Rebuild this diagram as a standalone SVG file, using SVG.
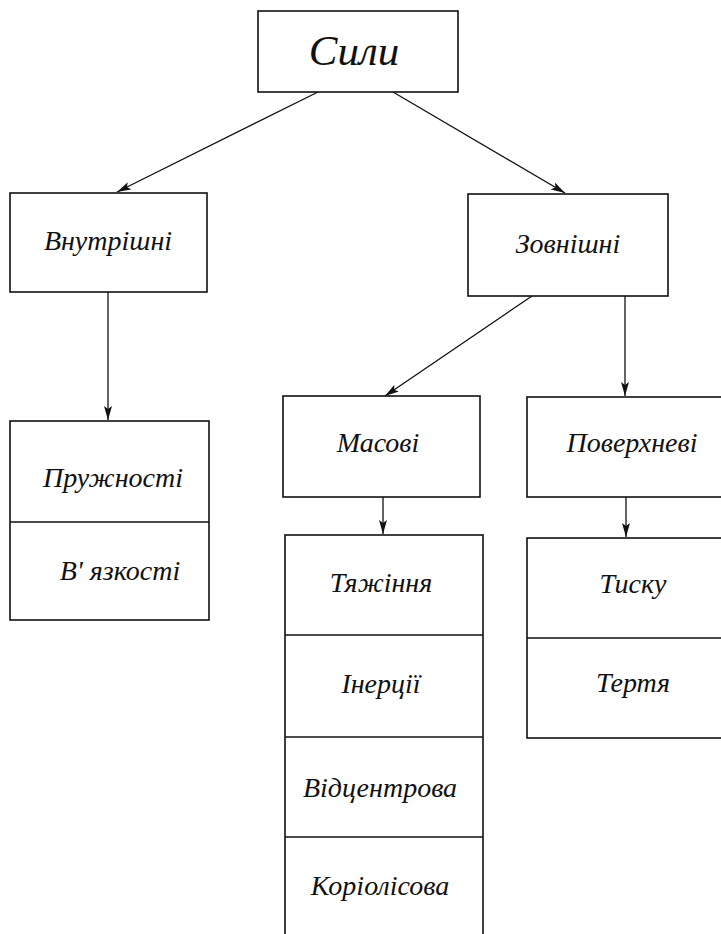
<svg xmlns="http://www.w3.org/2000/svg" width="721" height="934" viewBox="0 0 721 934">
<style>
.box{fill:#fff;stroke:#111;stroke-width:1.6}
.div{stroke:#111;stroke-width:1.6}
.t{font-style:italic;font-size:28px;fill:#111;text-anchor:middle}
.big{font-size:43px}
.c{stroke:#111;stroke-width:1.3;fill:none;marker-end:url(#ah)}
</style>
<defs>
<marker id="ah" viewBox="0 0 14 8" refX="14" refY="4" markerWidth="14" markerHeight="8" markerUnits="userSpaceOnUse" orient="auto">
<path d="M0,0 L14,4 L0,8 L3,4 Z" fill="#111"/>
</marker>
</defs>
<rect width="721" height="934" fill="#fff"/>
<g id="connectors">
<line class="c" x1="318" y1="92" x2="117" y2="192"/>
<line class="c" x1="393" y1="92" x2="565" y2="193"/>
<line class="c" x1="108" y1="292" x2="108" y2="420"/>
<line class="c" x1="532" y1="296" x2="385" y2="396"/>
<line class="c" x1="625" y1="296" x2="625" y2="396"/>
<line class="c" x1="383" y1="497" x2="383" y2="534"/>
<line class="c" x1="626" y1="497" x2="626" y2="537"/>
</g>
<g font-family="Liberation Serif, Times New Roman, DejaVu Serif, serif">
<g id="n-syly">
<rect class="box" x="258" y="11" width="200" height="81"/>
<text class="t big" x="354" y="65">Сили</text>
</g>
<g id="n-vnutrishni">
<rect class="box" x="10" y="193" width="197" height="99"/>
<text class="t" x="108" y="250">Внутрішні</text>
</g>
<g id="n-zovnishni">
<rect class="box" x="468" y="194" width="200" height="102"/>
<text class="t" x="568" y="253">Зовнішні</text>
</g>
<g id="n-masovi">
<rect class="box" x="283" y="396" width="197" height="101"/>
<text class="t" x="378" y="452">Масові</text>
</g>
<g id="n-poverkhnevi">
<rect class="box" x="527" y="397" width="200" height="100"/>
<text class="t" x="632" y="452">Поверхневі</text>
</g>
<g id="n-internal-list">
<rect class="box" x="10" y="421" width="199" height="199"/>
<line class="div" x1="10" y1="522" x2="209" y2="522"/>
<text class="t" x="113" y="487">Пружності</text>
<text class="t" x="120" y="580">В' язкості</text>
</g>
<g id="n-mass-list">
<rect class="box" x="285" y="535" width="198" height="410"/>
<line class="div" x1="285" y1="635" x2="483" y2="635"/>
<line class="div" x1="285" y1="737" x2="483" y2="737"/>
<line class="div" x1="285" y1="837" x2="483" y2="837"/>
<text class="t" x="381" y="592">Тяжіння</text>
<text class="t" x="381" y="693">Інерції</text>
<text class="t" x="380" y="797">Відцентрова</text>
<text class="t" x="380" y="895">Коріолісова</text>
</g>
<g id="n-surface-list">
<rect class="box" x="527" y="538" width="200" height="200"/>
<line class="div" x1="527" y1="638" x2="727" y2="638"/>
<text class="t" x="633" y="593">Тиску</text>
<text class="t" x="633" y="692">Тертя</text>
</g>
</g>
</svg>
